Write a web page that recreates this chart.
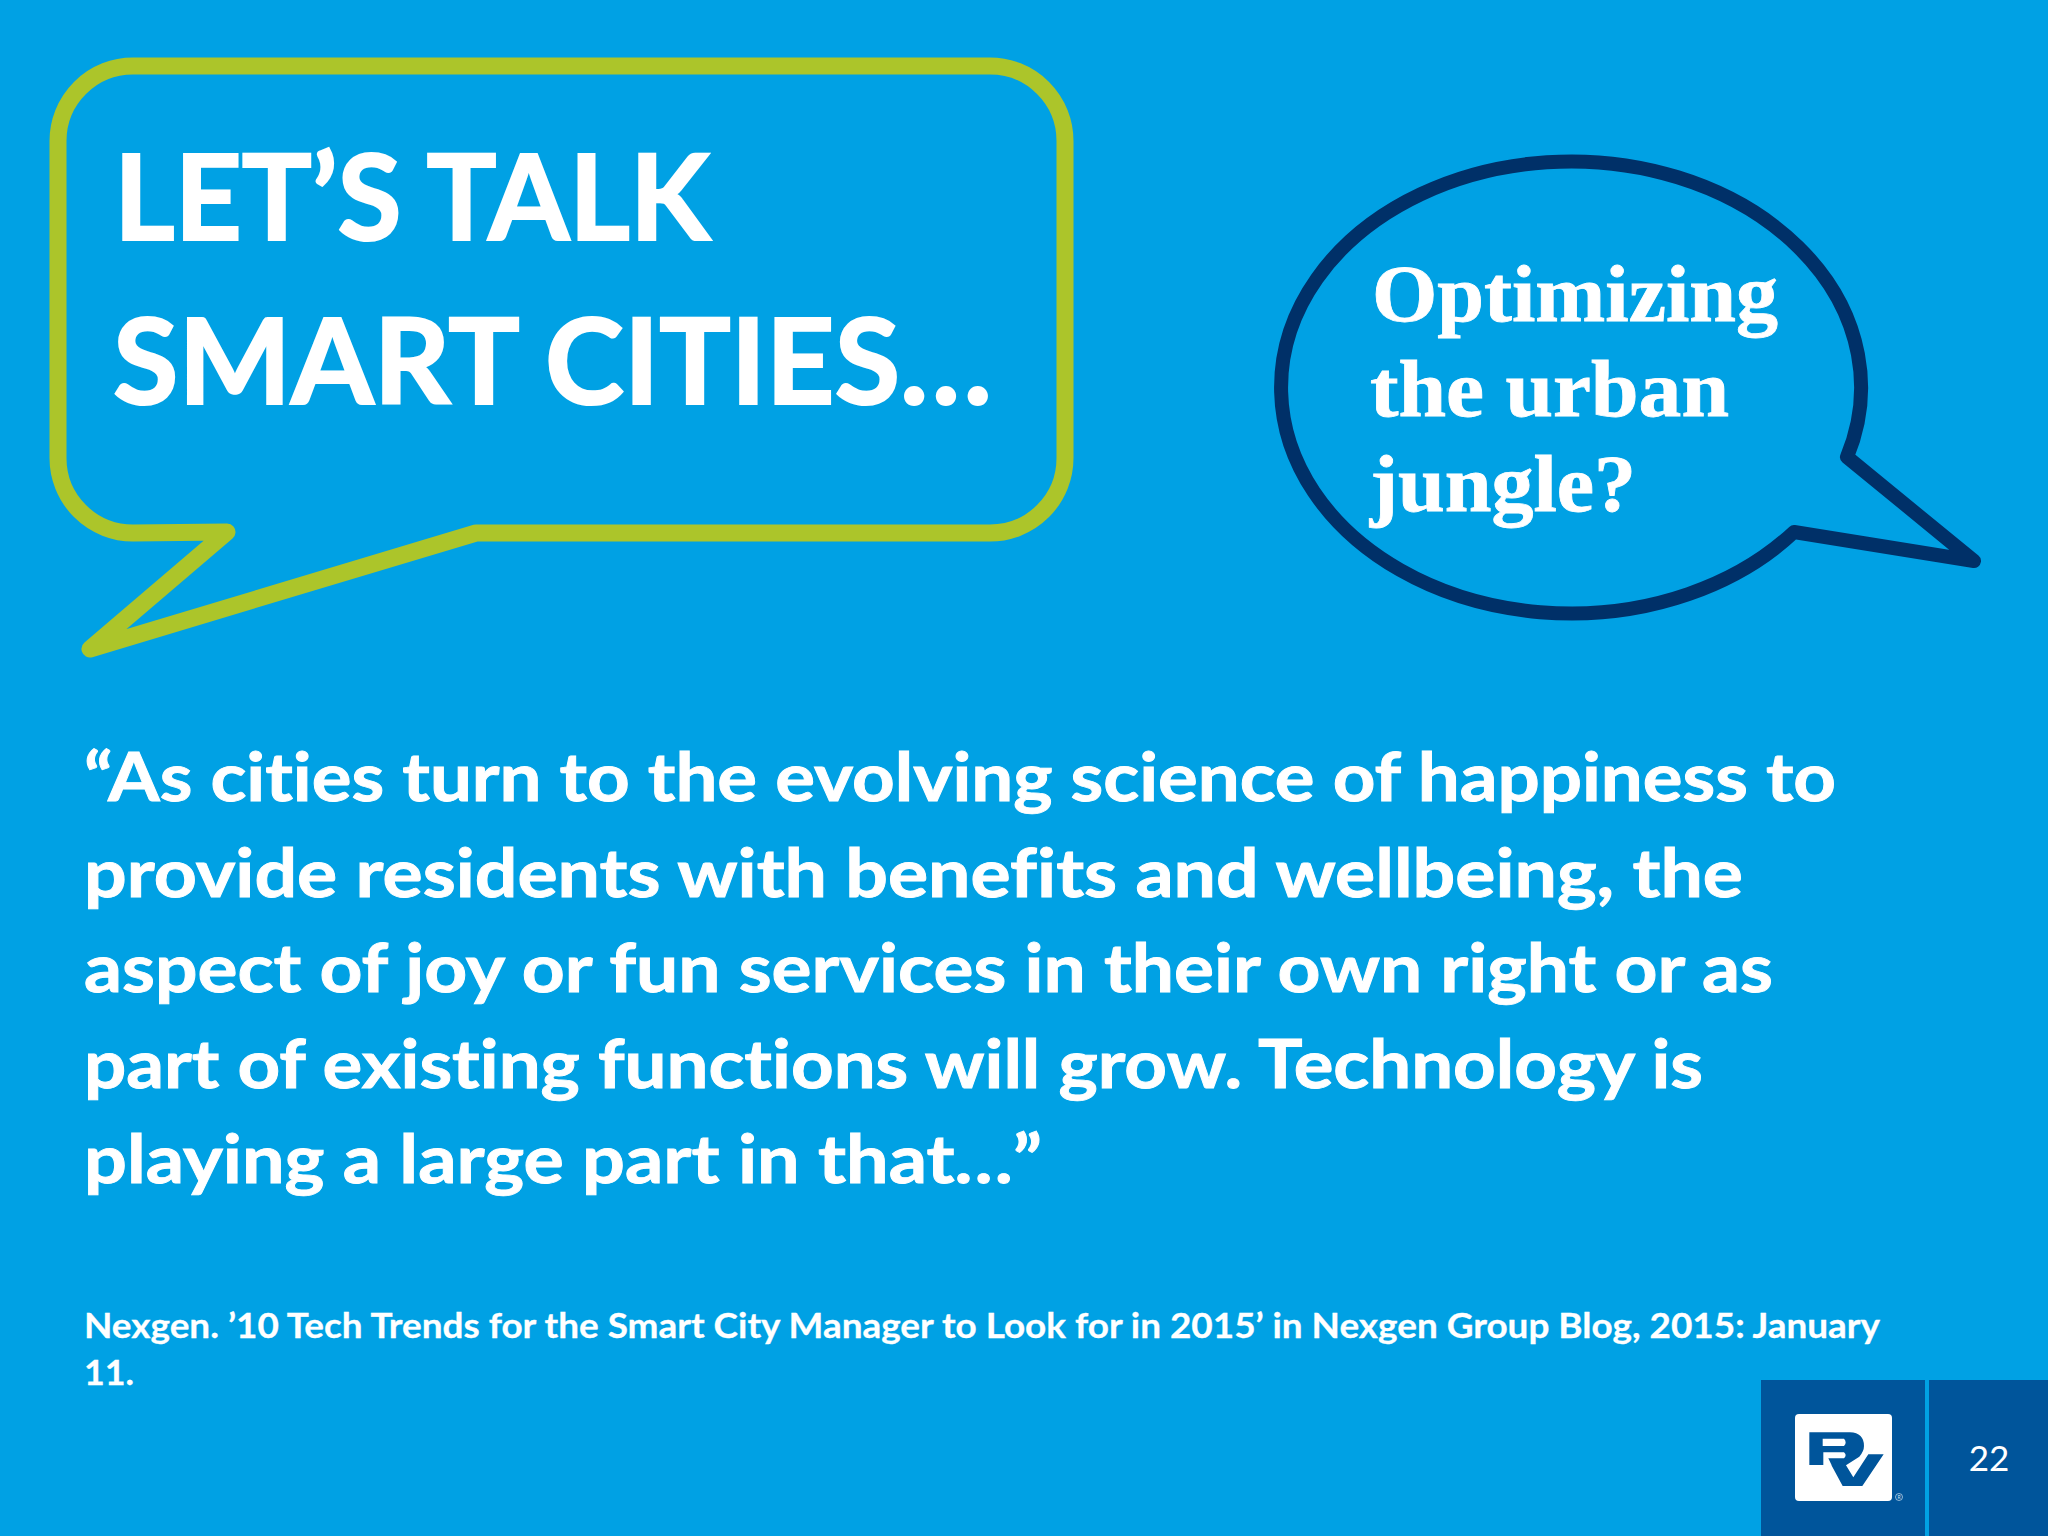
<!DOCTYPE html>
<html lang="en">
  <head>
    <meta charset="UTF-8" />
    <title>Let's talk smart cities</title>
    <style>
      html,
      body {
        margin: 0;
        background: #00a1e4;
      }
      svg {
        display: block;
      }
      text {
        font-variant-ligatures: none;
      }
      .sans {
        font-family: Lato, "Noto Sans", sans-serif;
        font-weight: 700;
        fill: #fff;
        stroke: #fff;
      }
      .serif {
        font-family: "Liberation Serif", serif;
        font-weight: 700;
        fill: #fff;
        stroke: #fff;
      }
    </style>
  </head>
  <body>
    <script src="https://d3js.org/d3.v7.min.js"></script>
    <script>
      // text of the slide, line by line
      const titleLines = ["LET\u2019S TALK", "SMART CITIES\u2026"];
      const questionLines = ["Optimizing", "the urban", "jungle?"];
      const quoteLines = [
        "\u201CAs cities turn to the evolving science of happiness to",
        "provide residents with benefits and wellbeing, the",
        "aspect of joy or fun services in their own right or as",
        "part of existing functions will grow. Technology is",
        "playing a large part in that\u2026\u201D",
      ];
      const citationLines = [
        "Nexgen. \u201910 Tech Trends for the Smart City Manager to Look for in 2015\u2019 in Nexgen Group Blog, 2015: January",
        "11.",
      ];
      const pageNumber = "22";

      const BG = "#00a1e4";
      const GREEN = "#acc52a";
      const NAVY = "#003068";
      const PANEL = "#00559b";

      const svg = d3
        .select("body")
        .append("svg")
        .attr("width", 2048)
        .attr("height", 1536);

      svg.append("rect").attr("width", 2048).attr("height", 1536).attr("fill", BG);

      // green speech box
      const box = d3.path();
      box.moveTo(133, 66);
      box.lineTo(990, 66);
      box.arcTo(1065, 66, 1065, 141, 75);
      box.lineTo(1065, 458);
      box.arcTo(1065, 533, 990, 533, 75);
      box.lineTo(476, 533);
      box.lineTo(90, 649);
      box.lineTo(227, 532);
      box.lineTo(133, 533);
      box.arcTo(58, 533, 58, 458, 75);
      box.lineTo(58, 141);
      box.arcTo(58, 66, 133, 66, 75);
      box.closePath();

      svg
        .append("path")
        .attr("d", box.toString())
        .attr("fill", "none")
        .attr("stroke", GREEN)
        .attr("stroke-width", 17)
        .attr("stroke-linejoin", "round");

      // navy round bubble
      svg
        .append("path")
        .attr(
          "d",
          "M1847,457 A290,226 0 1 0 1794,532 L1974,561 Z"
        )
        .attr("fill", "none")
        .attr("stroke", NAVY)
        .attr("stroke-width", 14)
        .attr("stroke-linejoin", "round");

      // widths are matched line by line, the original fonts are not installed
      function textBlock(lines, cls, size, weight, xs, baselines, lengths) {
        svg
          .selectAll(null)
          .data(lines)
          .enter()
          .append("text")
          .attr("class", cls)
          .attr("font-size", size)
          .attr("stroke-width", weight)
          .attr("x", (_, i) => xs[i])
          .attr("y", (_, i) => baselines[i])
          .attr("textLength", (_, i) => lengths[i])
          .attr("lengthAdjust", "spacingAndGlyphs")
          .text((d) => d);
      }

      textBlock(titleLines, "sans", 118, 2.2, [114, 113], [240, 404], [596, 879]);
      textBlock(
        questionLines,
        "serif",
        80,
        0.8,
        [1372, 1370, 1370],
        [321, 416, 511],
        [406, 359, 266]
      );
      textBlock(
        quoteLines,
        "sans",
        67,
        0.9,
        [84, 84, 84, 84, 84],
        [801, 897, 992, 1088, 1183],
        [1752, 1659, 1689, 1619, 958]
      );
      textBlock(citationLines, "sans", 34, 0.3, [84, 84], [1338, 1385], [1796, 50]);

      // footer panels
      svg
        .append("rect")
        .attr("x", 1761)
        .attr("y", 1380)
        .attr("width", 164)
        .attr("height", 156)
        .attr("fill", PANEL);
      svg
        .append("rect")
        .attr("x", 1929)
        .attr("y", 1380)
        .attr("width", 119)
        .attr("height", 156)
        .attr("fill", PANEL);

      svg
        .append("text")
        .attr("x", 1989)
        .attr("y", 1471)
        .attr("text-anchor", "middle")
        .attr("font-family", "Lato, sans-serif")
        .attr("font-size", 35)
        .attr("fill", "#fff")
        .text(pageNumber);

      // logo
      svg
        .append("rect")
        .attr("x", 1795)
        .attr("y", 1414)
        .attr("width", 97)
        .attr("height", 87)
        .attr("rx", 4)
        .attr("fill", "#fff");

      const logo = svg
        .append("g")
        .attr("transform", "translate(1740,1360) scale(0.3333)");
      logo
        .append("path")
        .attr(
          "d",
          "M208,217 H330 Q372,219 372,258 Q372,274 358,290 L318,316 L340,352 L385,283 H431 L367,378 H308 L274,315 H208 Z"
        )
        .attr("fill", PANEL);
      logo
        .append("path")
        .attr("d", "M248,236 H312 Q322,247 312,258 H248 Z")
        .attr("fill", "#fff");
      logo
        .append("path")
        .attr("d", "M250,277 H312 Q322,285 312,295 H265 L275,316 H250 Z")
        .attr("fill", "#fff");

      svg
        .append("circle")
        .attr("cx", 1899)
        .attr("cy", 1497)
        .attr("r", 3.5)
        .attr("fill", "none")
        .attr("stroke", "#cfe3f2")
        .attr("stroke-width", 0.7);
      svg
        .append("text")
        .attr("x", 1899)
        .attr("y", 1499)
        .attr("text-anchor", "middle")
        .attr("font-family", "Lato, sans-serif")
        .attr("font-size", 5)
        .attr("fill", "#cfe3f2")
        .text("R");
    </script>
  </body>
</html>
